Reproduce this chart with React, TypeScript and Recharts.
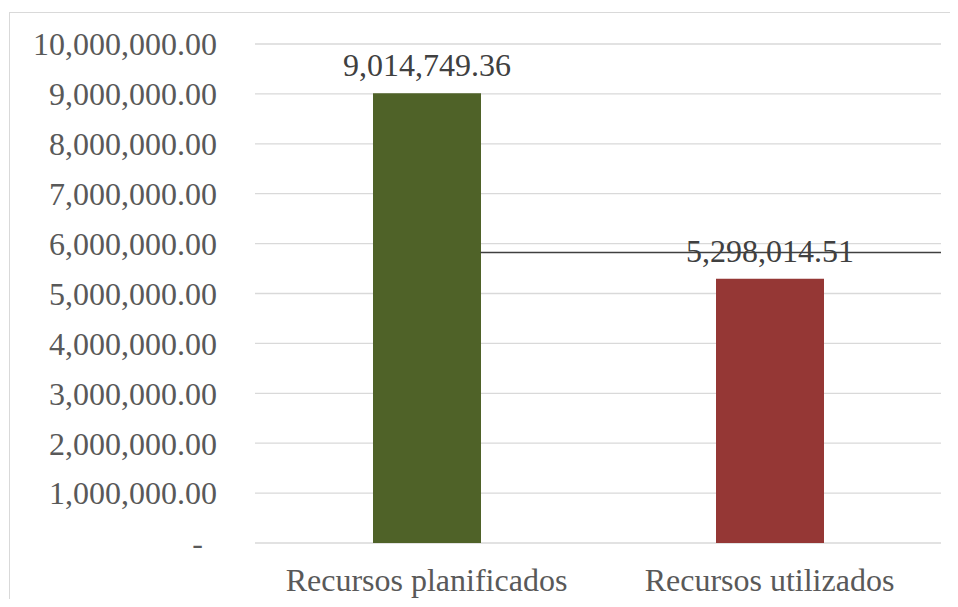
import { Bar, BarChart, CartesianGrid, Cell, LabelList, ReferenceLine, XAxis, YAxis } from 'recharts'

const categories = ['Recursos planificados', 'Recursos utilizados']
const amounts = [9014749.36, 5298014.51]
const barColors = ['#4F6228', '#953735']
const yTicks = [0, 1000000, 2000000, 3000000, 4000000, 5000000, 6000000, 7000000, 8000000, 9000000, 10000000]
const markerLevel = 5820000

const data = categories.map((name, i) => ({ name, value: amounts[i] }))

const font = 'Liberation Serif, Times New Roman, serif'
const barWidth = 108

const money = (v: number) =>
  v.toLocaleString('en-US', { minimumFractionDigits: 2, maximumFractionDigits: 2 })

function YTick({ x, y, payload }: any) {
  const zero = payload.value === 0
  return (
    <text
      x={zero ? x - 14 : x}
      y={y}
      dy="0.355em"
      textAnchor="end"
      fill="#595959"
      fontSize={32}
      fontFamily={font}
    >
      {zero ? '-' : money(payload.value)}
    </text>
  )
}

function MarkerLine(p: any) {
  // begins at the right edge of the first bar and runs to the end of the plot
  const start = p.x1 + (p.x2 - p.x1) / 4 + barWidth / 2
  return <line x1={start} x2={p.x2} y1={p.y1} y2={p.y2} stroke="#404040" strokeWidth={1.5} />
}

export default function App() {
  return (
    <div style={{ position: 'relative', width: 958, height: 607, margin: -8, background: '#fff' }}>
      <div
        style={{
          position: 'absolute',
          left: 9,
          top: 12,
          right: 0,
          bottom: 0,
          borderTop: '1px solid #d9d9d9',
          borderLeft: '1px solid #d9d9d9',
        }}
      />
      <div style={{ position: 'absolute', left: 0, top: 0 }}>
        <BarChart
          width={958}
          height={607}
          data={data}
          margin={{ top: 44, right: 17, bottom: 0, left: 0 }}
          barSize={barWidth}
        >
          <CartesianGrid vertical={false} stroke="#d9d9d9" strokeWidth={1.3} />
          <XAxis
            dataKey="name"
            axisLine={false}
            tickLine={false}
            tickSize={0}
            tickMargin={25}
            height={64}
            tick={{ fill: '#595959', fontSize: 32, fontFamily: font }}
          />
          <YAxis
            type="number"
            domain={[0, 10000000]}
            ticks={yTicks}
            width={255}
            axisLine={false}
            tickLine={false}
            tickSize={0}
            tickMargin={38}
            tick={<YTick />}
          />
          <ReferenceLine y={markerLevel} shape={<MarkerLine />} />
          <Bar dataKey="value" isAnimationActive={false}>
            {data.map((d, i) => (
              <Cell key={d.name} fill={barColors[i]} />
            ))}
            <LabelList
              dataKey="value"
              position="top"
              offset={17}
              formatter={(v: any) => money(Number(v))}
              fill="#404040"
              fontSize={32}
              fontFamily={font}
            />
          </Bar>
        </BarChart>
      </div>
    </div>
  )
}
